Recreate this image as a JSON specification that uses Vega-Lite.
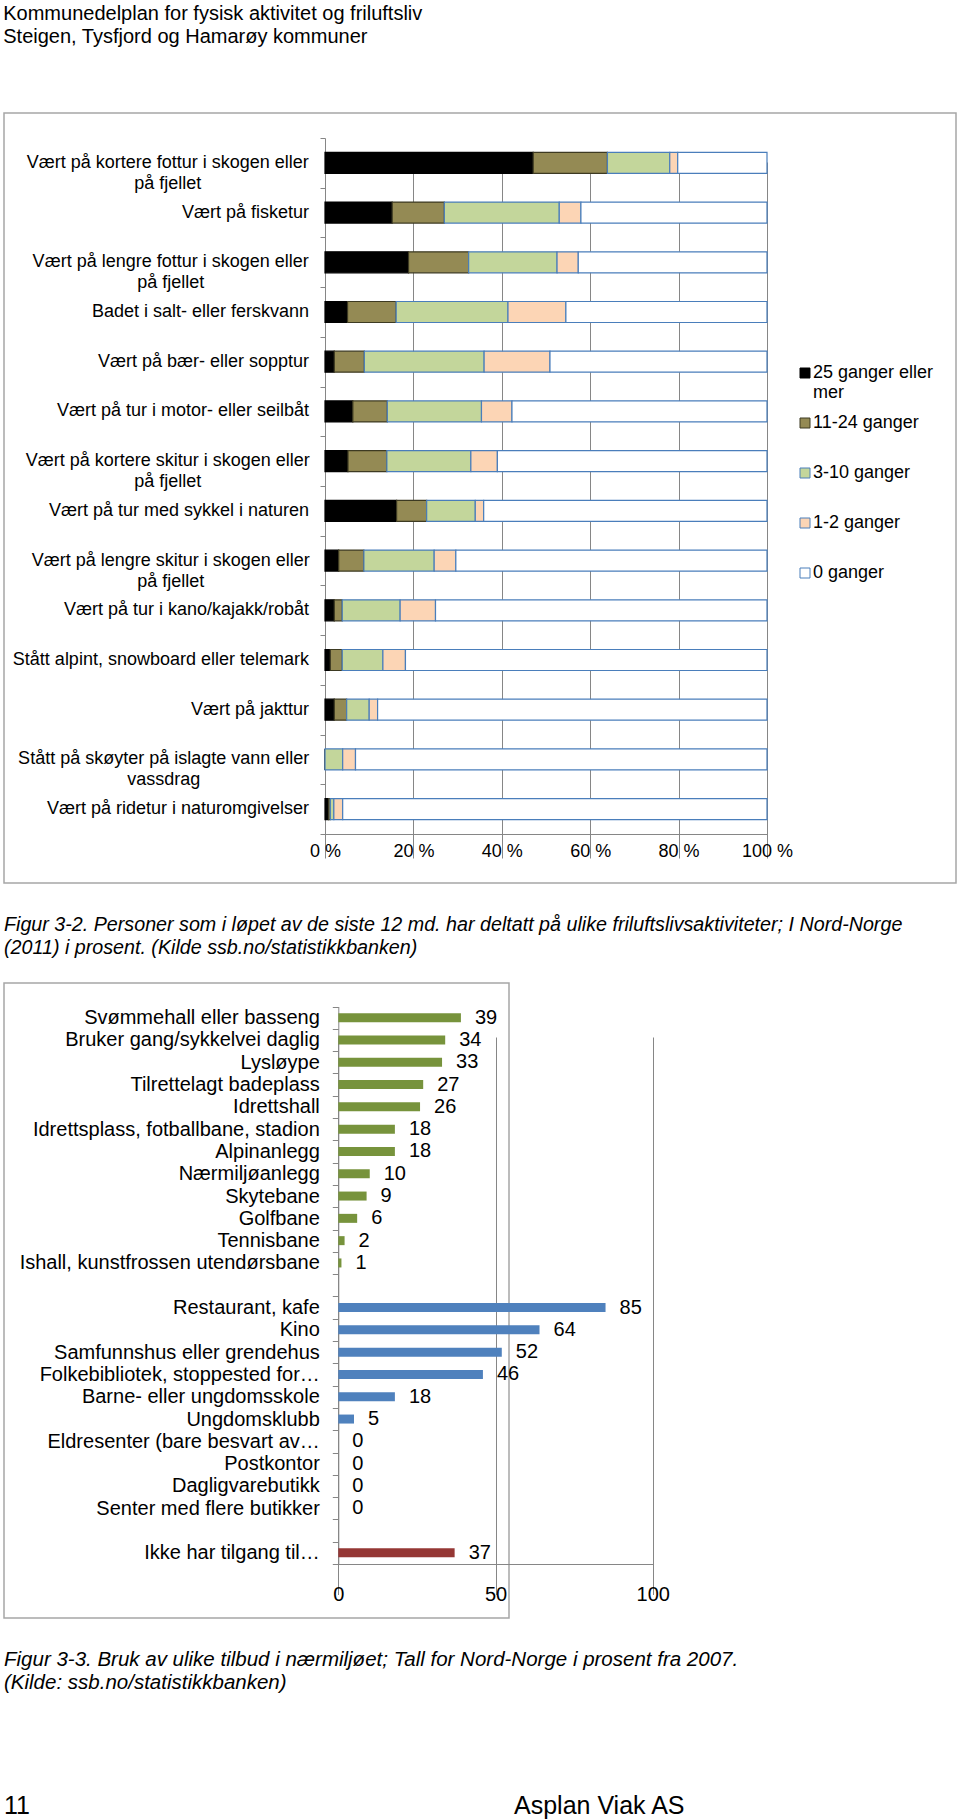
{
  "$schema": "https://vega.github.io/schema/vega-lite/v6.json",
  "background": "white",
  "padding": {"left": 3, "top": 3, "right": 0, "bottom": 0},
  "title": {
    "text": ["Kommunedelplan for fysisk aktivitet og friluftsliv", "Steigen, Tysfjord og Hamarøy kommuner"],
    "anchor": "start", "fontSize": 20, "lineHeight": 23.4, "offset": 65, "font": "Liberation Sans", "fontWeight": "normal", "color": "#000000"
  },
  "config": {
    "font": "Liberation Sans",
    "title": {"font": "Liberation Sans", "fontWeight": "normal", "color": "#000000", "anchor": "start"}
  },
  "spacing": 30,
  "vconcat": [
    {
      "width": 952,
      "height": 770,
      "view": {"stroke": "#a6a6a6", "strokeWidth": 1.5},
      "data": {"values": [
        {"aktivitet": "Vært på kortere fottur i skogen eller på fjellet", "hyppighet": "25 ganger eller mer", "k": 1, "andel": 47.1},
        {"aktivitet": "Vært på kortere fottur i skogen eller på fjellet", "hyppighet": "11-24 ganger", "k": 2, "andel": 16.8},
        {"aktivitet": "Vært på kortere fottur i skogen eller på fjellet", "hyppighet": "3-10 ganger", "k": 3, "andel": 14.1},
        {"aktivitet": "Vært på kortere fottur i skogen eller på fjellet", "hyppighet": "1-2 ganger", "k": 4, "andel": 1.8},
        {"aktivitet": "Vært på kortere fottur i skogen eller på fjellet", "hyppighet": "0 ganger", "k": 5, "andel": 20.2},
        {"aktivitet": "Vært på fisketur", "hyppighet": "25 ganger eller mer", "k": 1, "andel": 15.2},
        {"aktivitet": "Vært på fisketur", "hyppighet": "11-24 ganger", "k": 2, "andel": 11.8},
        {"aktivitet": "Vært på fisketur", "hyppighet": "3-10 ganger", "k": 3, "andel": 26},
        {"aktivitet": "Vært på fisketur", "hyppighet": "1-2 ganger", "k": 4, "andel": 4.9},
        {"aktivitet": "Vært på fisketur", "hyppighet": "0 ganger", "k": 5, "andel": 42.1},
        {"aktivitet": "Vært på lengre fottur i skogen eller på fjellet", "hyppighet": "25 ganger eller mer", "k": 1, "andel": 18.9},
        {"aktivitet": "Vært på lengre fottur i skogen eller på fjellet", "hyppighet": "11-24 ganger", "k": 2, "andel": 13.6},
        {"aktivitet": "Vært på lengre fottur i skogen eller på fjellet", "hyppighet": "3-10 ganger", "k": 3, "andel": 20},
        {"aktivitet": "Vært på lengre fottur i skogen eller på fjellet", "hyppighet": "1-2 ganger", "k": 4, "andel": 4.8},
        {"aktivitet": "Vært på lengre fottur i skogen eller på fjellet", "hyppighet": "0 ganger", "k": 5, "andel": 42.7},
        {"aktivitet": "Badet i salt- eller ferskvann", "hyppighet": "25 ganger eller mer", "k": 1, "andel": 5.1},
        {"aktivitet": "Badet i salt- eller ferskvann", "hyppighet": "11-24 ganger", "k": 2, "andel": 11},
        {"aktivitet": "Badet i salt- eller ferskvann", "hyppighet": "3-10 ganger", "k": 3, "andel": 25.3},
        {"aktivitet": "Badet i salt- eller ferskvann", "hyppighet": "1-2 ganger", "k": 4, "andel": 13.1},
        {"aktivitet": "Badet i salt- eller ferskvann", "hyppighet": "0 ganger", "k": 5, "andel": 45.5},
        {"aktivitet": "Vært på bær- eller sopptur", "hyppighet": "25 ganger eller mer", "k": 1, "andel": 2.1},
        {"aktivitet": "Vært på bær- eller sopptur", "hyppighet": "11-24 ganger", "k": 2, "andel": 6.8},
        {"aktivitet": "Vært på bær- eller sopptur", "hyppighet": "3-10 ganger", "k": 3, "andel": 27.1},
        {"aktivitet": "Vært på bær- eller sopptur", "hyppighet": "1-2 ganger", "k": 4, "andel": 14.9},
        {"aktivitet": "Vært på bær- eller sopptur", "hyppighet": "0 ganger", "k": 5, "andel": 49.1},
        {"aktivitet": "Vært på tur i motor- eller seilbåt", "hyppighet": "25 ganger eller mer", "k": 1, "andel": 6.3},
        {"aktivitet": "Vært på tur i motor- eller seilbåt", "hyppighet": "11-24 ganger", "k": 2, "andel": 7.8},
        {"aktivitet": "Vært på tur i motor- eller seilbåt", "hyppighet": "3-10 ganger", "k": 3, "andel": 21.3},
        {"aktivitet": "Vært på tur i motor- eller seilbåt", "hyppighet": "1-2 ganger", "k": 4, "andel": 6.9},
        {"aktivitet": "Vært på tur i motor- eller seilbåt", "hyppighet": "0 ganger", "k": 5, "andel": 57.7},
        {"aktivitet": "Vært på kortere skitur i skogen eller på fjellet", "hyppighet": "25 ganger eller mer", "k": 1, "andel": 5.2},
        {"aktivitet": "Vært på kortere skitur i skogen eller på fjellet", "hyppighet": "11-24 ganger", "k": 2, "andel": 8.8},
        {"aktivitet": "Vært på kortere skitur i skogen eller på fjellet", "hyppighet": "3-10 ganger", "k": 3, "andel": 19},
        {"aktivitet": "Vært på kortere skitur i skogen eller på fjellet", "hyppighet": "1-2 ganger", "k": 4, "andel": 6},
        {"aktivitet": "Vært på kortere skitur i skogen eller på fjellet", "hyppighet": "0 ganger", "k": 5, "andel": 61},
        {"aktivitet": "Vært på tur med sykkel i naturen", "hyppighet": "25 ganger eller mer", "k": 1, "andel": 16.2},
        {"aktivitet": "Vært på tur med sykkel i naturen", "hyppighet": "11-24 ganger", "k": 2, "andel": 6.8},
        {"aktivitet": "Vært på tur med sykkel i naturen", "hyppighet": "3-10 ganger", "k": 3, "andel": 11},
        {"aktivitet": "Vært på tur med sykkel i naturen", "hyppighet": "1-2 ganger", "k": 4, "andel": 1.9},
        {"aktivitet": "Vært på tur med sykkel i naturen", "hyppighet": "0 ganger", "k": 5, "andel": 64.1},
        {"aktivitet": "Vært på lengre skitur i skogen eller på fjellet", "hyppighet": "25 ganger eller mer", "k": 1, "andel": 3.1},
        {"aktivitet": "Vært på lengre skitur i skogen eller på fjellet", "hyppighet": "11-24 ganger", "k": 2, "andel": 5.7},
        {"aktivitet": "Vært på lengre skitur i skogen eller på fjellet", "hyppighet": "3-10 ganger", "k": 3, "andel": 15.9},
        {"aktivitet": "Vært på lengre skitur i skogen eller på fjellet", "hyppighet": "1-2 ganger", "k": 4, "andel": 4.9},
        {"aktivitet": "Vært på lengre skitur i skogen eller på fjellet", "hyppighet": "0 ganger", "k": 5, "andel": 70.4},
        {"aktivitet": "Vært på tur i kano/kajakk/robåt", "hyppighet": "25 ganger eller mer", "k": 1, "andel": 2.1},
        {"aktivitet": "Vært på tur i kano/kajakk/robåt", "hyppighet": "11-24 ganger", "k": 2, "andel": 1.8},
        {"aktivitet": "Vært på tur i kano/kajakk/robåt", "hyppighet": "3-10 ganger", "k": 3, "andel": 13.1},
        {"aktivitet": "Vært på tur i kano/kajakk/robåt", "hyppighet": "1-2 ganger", "k": 4, "andel": 8},
        {"aktivitet": "Vært på tur i kano/kajakk/robåt", "hyppighet": "0 ganger", "k": 5, "andel": 75},
        {"aktivitet": "Stått alpint, snowboard eller telemark", "hyppighet": "25 ganger eller mer", "k": 1, "andel": 1.2},
        {"aktivitet": "Stått alpint, snowboard eller telemark", "hyppighet": "11-24 ganger", "k": 2, "andel": 2.7},
        {"aktivitet": "Stått alpint, snowboard eller telemark", "hyppighet": "3-10 ganger", "k": 3, "andel": 9.2},
        {"aktivitet": "Stått alpint, snowboard eller telemark", "hyppighet": "1-2 ganger", "k": 4, "andel": 5.1},
        {"aktivitet": "Stått alpint, snowboard eller telemark", "hyppighet": "0 ganger", "k": 5, "andel": 81.8},
        {"aktivitet": "Vært på jakttur", "hyppighet": "25 ganger eller mer", "k": 1, "andel": 2.1},
        {"aktivitet": "Vært på jakttur", "hyppighet": "11-24 ganger", "k": 2, "andel": 2.8},
        {"aktivitet": "Vært på jakttur", "hyppighet": "3-10 ganger", "k": 3, "andel": 5.1},
        {"aktivitet": "Vært på jakttur", "hyppighet": "1-2 ganger", "k": 4, "andel": 1.9},
        {"aktivitet": "Vært på jakttur", "hyppighet": "0 ganger", "k": 5, "andel": 88.1},
        {"aktivitet": "Stått på skøyter på islagte vann eller vassdrag", "hyppighet": "25 ganger eller mer", "k": 1, "andel": 0},
        {"aktivitet": "Stått på skøyter på islagte vann eller vassdrag", "hyppighet": "11-24 ganger", "k": 2, "andel": 0},
        {"aktivitet": "Stått på skøyter på islagte vann eller vassdrag", "hyppighet": "3-10 ganger", "k": 3, "andel": 4},
        {"aktivitet": "Stått på skøyter på islagte vann eller vassdrag", "hyppighet": "1-2 ganger", "k": 4, "andel": 2.9},
        {"aktivitet": "Stått på skøyter på islagte vann eller vassdrag", "hyppighet": "0 ganger", "k": 5, "andel": 93.1},
        {"aktivitet": "Vært på ridetur i naturomgivelser", "hyppighet": "25 ganger eller mer", "k": 1, "andel": 0.8},
        {"aktivitet": "Vært på ridetur i naturomgivelser", "hyppighet": "11-24 ganger", "k": 2, "andel": 0.4},
        {"aktivitet": "Vært på ridetur i naturomgivelser", "hyppighet": "3-10 ganger", "k": 3, "andel": 0.8},
        {"aktivitet": "Vært på ridetur i naturomgivelser", "hyppighet": "1-2 ganger", "k": 4, "andel": 2},
        {"aktivitet": "Vært på ridetur i naturomgivelser", "hyppighet": "0 ganger", "k": 5, "andel": 96}
      ]},
      "encoding": {
        "y": {
          "field": "aktivitet", "type": "nominal",
          "scale": {
            "domain": [
              "Vært på kortere fottur i skogen eller på fjellet",
              "Vært på fisketur",
              "Vært på lengre fottur i skogen eller på fjellet",
              "Badet i salt- eller ferskvann",
              "Vært på bær- eller sopptur",
              "Vært på tur i motor- eller seilbåt",
              "Vært på kortere skitur i skogen eller på fjellet",
              "Vært på tur med sykkel i naturen",
              "Vært på lengre skitur i skogen eller på fjellet",
              "Vært på tur i kano/kajakk/robåt",
              "Stått alpint, snowboard eller telemark",
              "Vært på jakttur",
              "Stått på skøyter på islagte vann eller vassdrag",
              "Vært på ridetur i naturomgivelser"
            ],
            "range": [25, 721], "paddingInner": 0, "paddingOuter": 0
          },
          "axis": {
            "title": null, "offset": -321, "tickBand": "extent", "tickSize": 5,
            "tickColor": "#868686", "domainColor": "#868686", "labels": false, "grid": false
          }
        }
      },
      "layer": [
        {
          "mark": {"type": "bar", "size": 21, "strokeWidth": 1.2},
          "encoding": {
            "x": {
              "field": "andel", "type": "quantitative", "stack": "zero",
              "scale": {"domain": [0, 100], "range": [321, 763], "nice": false},
              "axis": {
                "title": null, "offset": -49, "values": [0, 20, 40, 60, 80, 100],
                "labelExpr": "datum.value + ' %'", "grid": true, "gridColor": "#868686",
                "domainColor": "#868686", "tickColor": "#868686", "tickSize": 5, "labelPadding": 3,
                "labelFontSize": 18, "labelColor": "#000000", "labelFlush": false
              }
            },
            "fill": {
              "field": "hyppighet", "type": "nominal",
              "scale": {
                "domain": ["25 ganger eller mer", "11-24 ganger", "3-10 ganger", "1-2 ganger", "0 ganger"],
                "range": ["#000000", "#948a54", "#c3d69b", "#fcd5b5", "#ffffff"]
              },
              "legend": {
                "title": null, "orient": "none", "legendX": 792, "legendY": 251, "direction": "vertical",
                "padding": 0, "symbolType": "square", "symbolSize": 100, "symbolStrokeWidth": 1,
                "symbolOffset": 0, "labelOffset": -1, "labelFontSize": 18, "labelColor": "#000000",
                "labelLimit": 300, "rowPadding": 12,
                "labelExpr": "datum.label == '25 ganger eller mer' ? ['25 ganger eller', 'mer'] : [datum.label, '']"
              }
            },
            "stroke": {
              "field": "hyppighet", "type": "nominal",
              "scale": {
                "domain": ["25 ganger eller mer", "11-24 ganger", "3-10 ganger", "1-2 ganger", "0 ganger"],
                "range": ["#000000", "#3d3a22", "#4a7ebb", "#4a7ebb", "#4a7ebb"]
              },
              "legend": {
                "title": null, "orient": "none", "legendX": 792, "legendY": 251, "direction": "vertical",
                "padding": 0, "symbolType": "square", "symbolSize": 100, "symbolStrokeWidth": 1,
                "symbolOffset": 0, "labelOffset": -1, "labelFontSize": 18, "labelColor": "#000000",
                "labelLimit": 300, "rowPadding": 12,
                "labelExpr": "datum.label == '25 ganger eller mer' ? ['25 ganger eller', 'mer'] : [datum.label, '']"
              }
            },
            "order": {"field": "k", "type": "quantitative"}
          }
        },
        {
          "transform": [{"filter": "datum.k == 1 && length(datum.aktivitet) <= 40"}],
          "mark": {"type": "text", "align": "right", "baseline": "middle", "dx": -16, "fontSize": 18, "color": "#000000"},
          "encoding": {
            "x": {"datum": 0},
            "text": {"field": "aktivitet", "type": "nominal"}
          }
        },
        {
          "transform": [
            {"filter": "datum.k == 1 && length(datum.aktivitet) > 40 && indexof(datum.aktivitet, 'kortere') >= 0"},
            {"calculate": "[substring(datum.aktivitet, 0, lastindexof(datum.aktivitet, ' eller') + 6), substring(datum.aktivitet, lastindexof(datum.aktivitet, ' eller') + 7)]", "as": "linjer"}
          ],
          "mark": {"type": "text", "align": "center", "baseline": "middle", "dx": -157.3, "fontSize": 18, "lineHeight": 21, "color": "#000000"},
          "encoding": {
            "x": {"datum": 0},
            "text": {"field": "linjer", "type": "nominal"}
          }
        },
        {
          "transform": [
            {"filter": "datum.k == 1 && length(datum.aktivitet) > 40 && indexof(datum.aktivitet, 'lengre') >= 0"},
            {"calculate": "[substring(datum.aktivitet, 0, lastindexof(datum.aktivitet, ' eller') + 6), substring(datum.aktivitet, lastindexof(datum.aktivitet, ' eller') + 7)]", "as": "linjer"}
          ],
          "mark": {"type": "text", "align": "center", "baseline": "middle", "dx": -154.3, "fontSize": 18, "lineHeight": 21, "color": "#000000"},
          "encoding": {
            "x": {"datum": 0},
            "text": {"field": "linjer", "type": "nominal"}
          }
        },
        {
          "transform": [
            {"filter": "datum.k == 1 && length(datum.aktivitet) > 40 && indexof(datum.aktivitet, 'skøyter') >= 0"},
            {"calculate": "[substring(datum.aktivitet, 0, lastindexof(datum.aktivitet, ' eller') + 6), substring(datum.aktivitet, lastindexof(datum.aktivitet, ' eller') + 7)]", "as": "linjer"}
          ],
          "mark": {"type": "text", "align": "center", "baseline": "middle", "dx": -161.3, "fontSize": 18, "lineHeight": 21, "color": "#000000"},
          "encoding": {
            "x": {"datum": 0},
            "text": {"field": "linjer", "type": "nominal"}
          }
        }
      ]
    },
    {
      "title": {
        "text": ["Figur 3-2. Personer som i løpet av de siste 12 md. har deltatt på ulike friluftslivsaktiviteter; I Nord-Norge", "(2011) i prosent. (Kilde ssb.no/statistikkbanken)"],
        "anchor": "start", "fontSize": 19.7, "fontStyle": "italic", "lineHeight": 23, "offset": 15, "limit": 2000
      },
      "width": 505,
      "height": 635,
      "view": {"stroke": "#a6a6a6", "strokeWidth": 1.5},
      "data": {"values": [
        {"tilbud": "Svømmehall eller basseng", "gruppe": "anlegg", "prosent": 39},
        {"tilbud": "Bruker gang/sykkelvei daglig", "gruppe": "anlegg", "prosent": 34},
        {"tilbud": "Lysløype", "gruppe": "anlegg", "prosent": 33},
        {"tilbud": "Tilrettelagt badeplass", "gruppe": "anlegg", "prosent": 27},
        {"tilbud": "Idrettshall", "gruppe": "anlegg", "prosent": 26},
        {"tilbud": "Idrettsplass, fotballbane, stadion", "gruppe": "anlegg", "prosent": 18},
        {"tilbud": "Alpinanlegg", "gruppe": "anlegg", "prosent": 18},
        {"tilbud": "Nærmiljøanlegg", "gruppe": "anlegg", "prosent": 10},
        {"tilbud": "Skytebane", "gruppe": "anlegg", "prosent": 9},
        {"tilbud": "Golfbane", "gruppe": "anlegg", "prosent": 6},
        {"tilbud": "Tennisbane", "gruppe": "anlegg", "prosent": 2},
        {"tilbud": "Ishall, kunstfrossen utendørsbane", "gruppe": "anlegg", "prosent": 1},
        {"tilbud": "Restaurant, kafe", "gruppe": "tilbud", "prosent": 85},
        {"tilbud": "Kino", "gruppe": "tilbud", "prosent": 64},
        {"tilbud": "Samfunnshus eller grendehus", "gruppe": "tilbud", "prosent": 52},
        {"tilbud": "Folkebibliotek, stoppested for…", "gruppe": "tilbud", "prosent": 46},
        {"tilbud": "Barne- eller ungdomsskole", "gruppe": "tilbud", "prosent": 18},
        {"tilbud": "Ungdomsklubb", "gruppe": "tilbud", "prosent": 5},
        {"tilbud": "Eldresenter (bare besvart av…", "gruppe": "tilbud", "prosent": 0},
        {"tilbud": "Postkontor", "gruppe": "tilbud", "prosent": 0},
        {"tilbud": "Dagligvarebutikk", "gruppe": "tilbud", "prosent": 0},
        {"tilbud": "Senter med flere butikker", "gruppe": "tilbud", "prosent": 0},
        {"tilbud": "Ikke har tilgang til…", "gruppe": "ikke", "prosent": 37}
      ]},
      "encoding": {
        "y": {
          "field": "tilbud", "type": "nominal",
          "scale": {
            "domain": [
              "Svømmehall eller basseng", "Bruker gang/sykkelvei daglig", "Lysløype", "Tilrettelagt badeplass",
              "Idrettshall", "Idrettsplass, fotballbane, stadion", "Alpinanlegg", "Nærmiljøanlegg", "Skytebane",
              "Golfbane", "Tennisbane", "Ishall, kunstfrossen utendørsbane", " ",
              "Restaurant, kafe", "Kino", "Samfunnshus eller grendehus", "Folkebibliotek, stoppested for…",
              "Barne- eller ungdomsskole", "Ungdomsklubb", "Eldresenter (bare besvart av…", "Postkontor",
              "Dagligvarebutikk", "Senter med flere butikker", "  ", "Ikke har tilgang til…"
            ],
            "range": [23.5, 581], "paddingInner": 0, "paddingOuter": 0
          },
          "axis": {
            "title": null, "offset": -334.3, "tickBand": "extent", "tickSize": 6,
            "tickColor": "#868686", "domainColor": "#868686", "labelPadding": 13,
            "labelFontSize": 20, "labelColor": "#000000", "labelLimit": 400, "grid": false
          }
        },
        "x": {
          "field": "prosent", "type": "quantitative",
          "scale": {"domain": [0, 100], "range": [334.3, 648.7], "nice": false},
          "axis": {
            "title": null, "offset": -54, "values": [0, 50, 100], "grid": true, "gridColor": "#868686",
            "domainColor": "#868686", "tickColor": "#868686", "tickSize": 5, "labelPadding": 15,
            "labelFontSize": 20, "labelColor": "#000000", "labelFlush": false
          }
        }
      },
      "layer": [
        {
          "mark": {"type": "bar", "size": 9},
          "encoding": {
            "color": {
              "field": "gruppe", "type": "nominal",
              "scale": {"domain": ["anlegg", "tilbud", "ikke"], "range": ["#77933c", "#4f81bd", "#953735"]},
              "legend": null
            }
          }
        },
        {
          "mark": {"type": "text", "align": "left", "baseline": "middle", "dx": 14, "fontSize": 20, "color": "#000000"},
          "encoding": {"text": {"field": "prosent", "type": "quantitative"}}
        }
      ]
    },
    {
      "title": {
        "text": ["Figur 3-3. Bruk av ulike tilbud i nærmiljøet; Tall for Nord-Norge i prosent fra 2007.", "(Kilde: ssb.no/statistikkbanken)"],
        "anchor": "start", "fontSize": 20.5, "fontStyle": "italic", "lineHeight": 23, "offset": 101, "limit": 2000
      },
      "width": 952,
      "height": 20,
      "view": {"stroke": null},
      "data": {"values": [{"tekst": "11"}, {"tekst": "Asplan Viak AS"}]},
      "mark": {"type": "text", "align": "left", "baseline": "middle", "fontSize": 25, "color": "#000000"},
      "encoding": {
        "x": {"field": "tekst", "type": "nominal", "scale": {"type": "point", "domain": ["11", "Asplan Viak AS"], "range": [0, 510], "padding": 0}, "axis": null},
        "text": {"field": "tekst", "type": "nominal"}
      }
    }
  ]
}
